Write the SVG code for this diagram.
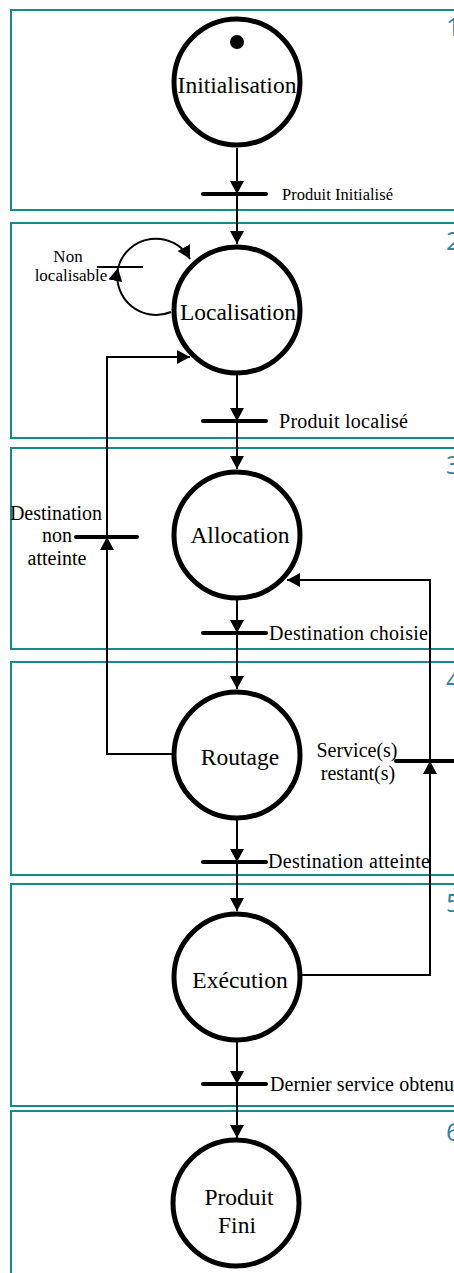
<svg xmlns="http://www.w3.org/2000/svg" width="454" height="1273" viewBox="0 0 454 1273">
<style>
.lane{fill:none;stroke:#158A8A;stroke-width:2}
.num{font-family:"Open Sans","Liberation Sans",sans-serif;font-size:26px;fill:#31849B}
.state{fill:#fff;stroke:#000;stroke-width:5}
.nlabel{font-family:"Liberation Serif",serif;font-size:23.5px;fill:#000;text-anchor:middle}
.tlabel{font-family:"Liberation Serif",serif;font-size:20px;fill:#000}
.bar{stroke:#000;stroke-width:4;stroke-linecap:round}
.thinbar{stroke:#000;stroke-width:2}
.edge{fill:none;stroke:#000;stroke-width:2}
</style>
<defs>
<marker id="arr" markerUnits="userSpaceOnUse" markerWidth="15" markerHeight="15" refX="13" refY="7" orient="auto">
<path d="M0,0 L13,7 L0,14 z" fill="#000"/>
</marker>
</defs>
<rect width="454" height="1273" fill="#fff"/>
<g id="lanes">
<rect class="lane" x="11" y="10" width="460" height="200"/>
<rect class="lane" x="11" y="223" width="460" height="215"/>
<rect class="lane" x="11" y="448" width="460" height="201"/>
<rect class="lane" x="11" y="662" width="460" height="213"/>
<rect class="lane" x="11" y="884" width="460" height="222"/>
<rect class="lane" x="11" y="1111" width="460" height="180"/>
<text class="num" x="446" y="36">1</text>
<text class="num" x="446" y="250">2</text>
<text class="num" x="446" y="474">3</text>
<text class="num" x="446" y="689">4</text>
<text class="num" x="446" y="912">5</text>
<text class="num" x="446" y="1141">6</text>
</g>
<g id="connectors">
<path class="edge" d="M237 148 V194" marker-end="url(#arr)"/>
<path class="edge" d="M237 194 V244" marker-end="url(#arr)"/>
<path class="edge" d="M237 375 V421" marker-end="url(#arr)"/>
<path class="edge" d="M237 421 V469" marker-end="url(#arr)"/>
<path class="edge" d="M237 600 V633" marker-end="url(#arr)"/>
<path class="edge" d="M237 633 V689" marker-end="url(#arr)"/>
<path class="edge" d="M237 820 V862" marker-end="url(#arr)"/>
<path class="edge" d="M237 862 V911" marker-end="url(#arr)"/>
<path class="edge" d="M237 1042 V1084" marker-end="url(#arr)"/>
<path class="edge" d="M237 1084 V1138" marker-end="url(#arr)"/>
<path class="edge" d="M171 312 A39 39 0 0 1 118 268" marker-end="url(#arr)"/>
<path class="edge" d="M118 268 A39 39 0 0 1 190 259" marker-end="url(#arr)"/>
<path class="edge" d="M173 754 H107 V537" marker-end="url(#arr)"/>
<path class="edge" d="M107 537 V357 H190" marker-end="url(#arr)"/>
<path class="edge" d="M302 975 H430 V761" marker-end="url(#arr)"/>
<path class="edge" d="M430 761 V580 H287" marker-end="url(#arr)"/>
</g>
<g id="node-initialisation">
<circle class="state" cx="237" cy="82" r="63"/>
<circle cx="237" cy="42" r="7" fill="#000"/>
<text class="nlabel" x="237" y="93">Initialisation</text>
</g>
<g id="node-localisation">
<circle class="state" cx="237" cy="310" r="63"/>
<text class="nlabel" x="238" y="320">Localisation</text>
</g>
<g id="node-allocation">
<circle class="state" cx="237" cy="535" r="63"/>
<text class="nlabel" x="240" y="543">Allocation</text>
</g>
<g id="node-routage">
<circle class="state" cx="237" cy="755" r="63"/>
<text class="nlabel" x="240" y="765">Routage</text>
</g>
<g id="node-execution">
<circle class="state" cx="237" cy="977" r="63"/>
<text class="nlabel" x="240" y="988">Exécution</text>
</g>
<g id="node-produit-fini">
<circle class="state" cx="236" cy="1203" r="63"/>
<text class="nlabel" x="239" y="1205">Produit</text>
<text class="nlabel" x="237" y="1233">Fini</text>
</g>
<g id="t-produit-initialise">
<line class="bar" x1="203" y1="194" x2="266" y2="194"/>
<text class="tlabel" x="282" y="200" style="font-size:16.5px" textLength="111">Produit Initialisé</text>
</g>
<g id="t-non-localisable">
<line class="thinbar" x1="97" y1="267" x2="143" y2="267"/>
<text class="tlabel" x="68" y="262" style="font-size:17px;text-anchor:middle">Non</text>
<text class="tlabel" x="71" y="281" style="font-size:17px;text-anchor:middle">localisable</text>
</g>
<g id="t-produit-localise">
<line class="bar" x1="203" y1="421" x2="266" y2="421"/>
<text class="tlabel" x="279" y="428" textLength="129">Produit localisé</text>
</g>
<g id="t-destination-non-atteinte">
<line class="bar" x1="76" y1="537" x2="137" y2="537"/>
<text class="tlabel" x="56" y="520" style="text-anchor:middle">Destination</text>
<text class="tlabel" x="57" y="542" style="text-anchor:middle">non</text>
<text class="tlabel" x="57" y="565" style="text-anchor:middle">atteinte</text>
</g>
<g id="t-destination-choisie">
<line class="bar" x1="203" y1="633" x2="266" y2="633"/>
<text class="tlabel" x="269" y="640" textLength="159">Destination choisie</text>
</g>
<g id="t-services-restants">
<line class="bar" x1="396" y1="761" x2="460" y2="761"/>
<text class="tlabel" x="357" y="757" style="text-anchor:middle">Service(s)</text>
<text class="tlabel" x="358" y="780" style="text-anchor:middle">restant(s)</text>
</g>
<g id="t-destination-atteinte">
<line class="bar" x1="203" y1="862" x2="266" y2="862"/>
<text class="tlabel" x="268" y="868" textLength="162">Destination atteinte</text>
</g>
<g id="t-dernier-service">
<line class="bar" x1="203" y1="1084" x2="266" y2="1084"/>
<text class="tlabel" x="270" y="1091" textLength="184">Dernier service obtenu</text>
</g>
</svg>
